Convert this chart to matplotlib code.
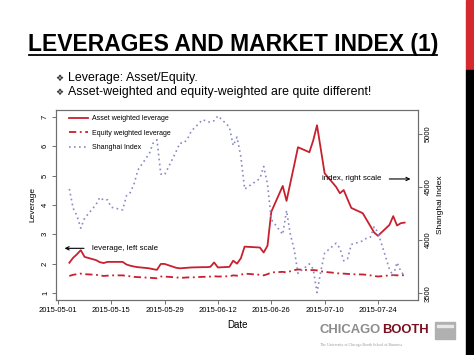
import numpy as np
import pandas as pd
import matplotlib
matplotlib.use('Agg')
import matplotlib.pyplot as plt
import matplotlib.dates as mdates
from matplotlib.lines import Line2D
from matplotlib.patches import Rectangle

plt.rcParams['font.family'] = ['Liberation Sans', 'DejaVu Sans']

# trading days, May 4 - July 31 2015 (June 22 was a holiday)
dates = pd.bdate_range('2015-05-04', '2015-07-31').drop(pd.Timestamp('2015-06-22'))

asset_lev = [2.03, 2.20, 2.32, 2.46, 2.23,
             2.12, 2.05, 2.02, 2.06, 2.06,
             2.06, 1.97, 1.93, 1.90, 1.88,
             1.84, 1.81, 1.79, 1.99, 1.99,
             1.86, 1.84, 1.85, 1.86, 1.87,
             1.88, 1.88, 1.89, 2.04, 1.87,
             1.89, 2.10, 2.00, 2.18, 2.58,
             2.55, 2.38, 2.61, 3.77,
             4.65, 4.14, 4.75, 5.35, 5.97,
             5.80, 6.20, 6.72, 5.90, 5.08,
             4.62, 4.40, 4.51, 4.20, 3.90,
             3.72, 3.50, 3.28, 3.06, 2.95,
             3.32, 3.62, 3.30, 3.38, 3.40]

equity_lev = [1.58, 1.62, 1.64, 1.66, 1.64,
              1.62, 1.60, 1.58, 1.59, 1.60,
              1.60, 1.58, 1.57, 1.55, 1.54,
              1.52, 1.51, 1.50, 1.56, 1.56,
              1.53, 1.52, 1.52, 1.53, 1.53,
              1.55, 1.55, 1.56, 1.57, 1.56,
              1.57, 1.60, 1.59, 1.62, 1.66,
              1.62, 1.60, 1.64, 1.70,
              1.72, 1.70, 1.74, 1.78, 1.80,
              1.78, 1.78, 1.77, 1.74, 1.72,
              1.68, 1.66, 1.66, 1.65, 1.64,
              1.63, 1.62, 1.60, 1.58, 1.56,
              1.60, 1.61, 1.60, 1.61, 1.60]

sh_index = [4480, 4298, 4229, 4112, 4205,
            4333, 4401, 4375, 4378, 4308,
            4283, 4417, 4446, 4529, 4658,
            4813, 4911, 4941, 4620, 4612,
            4829, 4910, 4910, 4947, 5023,
            5131, 5114, 5106, 5121, 5166,
            5062, 4887, 4967, 4786, 4478,
            4577, 4691, 4527, 4193,
            4053, 4277, 4053, 3912, 3687,
            3776, 3727, 3507, 3710, 3878,
            3970, 3924, 3805, 3823, 3958,
            3992, 4017, 4027, 4124, 4071,
            3726, 3663, 3789, 3705, 3664]

x_ticks = pd.date_range('2015-05-01', '2015-07-24', freq='14D')
lev_ticks = [1, 2, 3, 4, 5, 6, 7]
idx_ticks = [3500, 4000, 4500, 5000]

RED = '#c8202f'
BLUE = '#8a8ac4'
AXC = '#6e6e6e'
W, H = 474, 355


def fx(px):
    return px / W


def fy(py):
    return 1 - py / H


def main():
    fig = plt.figure(figsize=(W / 100, H / 100), dpi=100)

    # slide decoration
    fig.text(fx(233), fy(44), 'LEVERAGES AND MARKET INDEX (1)', ha='center', va='center',
             fontsize=16.5, fontweight='bold')
    fig.add_artist(Line2D([fx(29), fx(437)], [fy(55), fy(55)], color='black', lw=1.3))
    for yy, txt in [(78, 'Leverage: Asset/Equity.'),
                    (92, 'Asset-weighted and equity-weighted are quite different!')]:
        fig.text(fx(55), fy(yy), '\u2756', fontsize=6.5, family=['DejaVu Sans'],
                 ha='left', va='center', color='#333333')
        fig.text(fx(68), fy(yy), txt, fontsize=8.9, ha='left', va='center')
    fig.add_artist(Rectangle((fx(466), fy(70)), fx(8), 70 / H, color='#d42a2f'))
    fig.add_artist(Rectangle((fx(466), 0), fx(8), fy(70), color='black'))

    # logo
    t1 = fig.text(fx(320), fy(330), 'CHICAGO', color='#8c8c8c', fontweight='bold',
                  fontsize=9.4, ha='left', va='center')
    fig.canvas.draw()
    bb = t1.get_window_extent()
    fig.text(bb.x1 / W + fx(1), fy(330), 'BOOTH', color='#7a1020', fontweight='bold',
             fontsize=9.4, ha='left', va='center')
    fig.text(fx(320), fy(345), 'The University of Chicago Booth School of Business',
             color='#999999', fontsize=2.8, family=['Liberation Serif'], ha='left', va='center')
    fig.add_artist(Rectangle((fx(435), fy(339)), fx(20), 17 / H, color='#b0b0b0'))
    fig.add_artist(Rectangle((fx(437), fy(327)), fx(16), 2 / H, color='#e8e8e8'))

    # chart
    ax = fig.add_axes([fx(56), fy(300), fx(418 - 56), (300 - 110) / H])
    ax2 = ax.twinx()

    l1, = ax.plot(dates, asset_lev, color=RED, lw=1.3, label='Asset weighted leverage')
    l2, = ax.plot(dates, equity_lev, color=RED, lw=1.3, dashes=(4, 2, 1, 2),
                  label='Equity weighted leverage')
    l3, = ax2.plot(dates, sh_index, color=BLUE, lw=1.2, dashes=(1, 2), label='Shanghai Index')

    ax.set_xlim(pd.Timestamp('2015-04-30 12:00'), pd.Timestamp('2015-08-03 12:00'))
    ax.set_ylim(0.76, 7.24)
    ax2.set_ylim(3437, 5221)

    ax.set_xticks(x_ticks)
    ax.xaxis.set_major_formatter(mdates.DateFormatter('%Y-%m-%d'))
    ax.set_yticks(lev_ticks)
    ax2.set_yticks(idx_ticks)

    for a in (ax, ax2):
        for s in a.spines.values():
            s.set_color(AXC)
            s.set_linewidth(0.8)
        a.tick_params(length=3, width=0.7, color=AXC, labelsize=5.5, pad=2)
    ax.tick_params(axis='y', labelrotation=90)
    ax2.tick_params(axis='y', labelrotation=90)
    for t in ax.get_yticklabels():
        t.set_va('center')
    for t in ax2.get_yticklabels():
        t.set_va('center')

    ax.set_xlabel('Date', fontsize=7, labelpad=4)
    ax.set_ylabel('Leverage', fontsize=6, labelpad=4)
    ax2.set_ylabel('Shanghai Index', fontsize=6, labelpad=4)

    ax2.legend(handles=[l1, l2, l3], loc='upper left', frameon=False, fontsize=5,
               bbox_to_anchor=(fx(69), fy(115)), bbox_transform=fig.transFigure,
               borderpad=0, borderaxespad=0, handlelength=2.7, handletextpad=0.6,
               labelspacing=1.1)

    arrow = dict(arrowstyle='->', lw=0.8, color='black', mutation_scale=6)
    ax2.annotate('', xy=(0.016, 0.272), xytext=(0.085, 0.272), xycoords='axes fraction',
                 arrowprops=arrow)
    ax2.text(0.099, 0.272, 'leverage, left scale', transform=ax2.transAxes,
             fontsize=5.7, ha='left', va='center')
    ax2.text(0.734, 0.637, 'index, right scale', transform=ax2.transAxes,
             fontsize=5.7, ha='left', va='center')
    ax2.annotate('', xy=(0.987, 0.637), xytext=(0.913, 0.637), xycoords='axes fraction',
                 arrowprops=arrow)

    fig.savefig('out.png', dpi=100)


if __name__ == '__main__':
    main()
